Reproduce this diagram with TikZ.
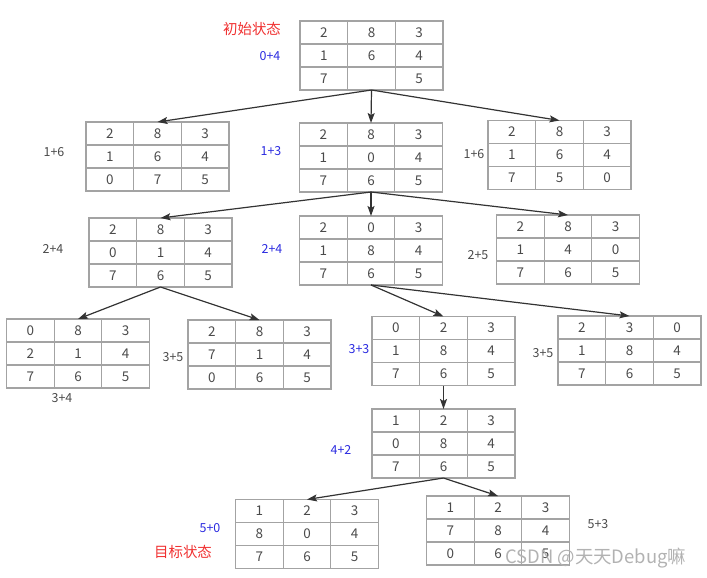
\documentclass[tikz,border=0pt]{standalone}
\usepackage{fontspec}
\setmainfont{Noto Sans CJK SC}
\usetikzlibrary{arrows.meta}
\definecolor{gridc}{HTML}{A3A3A3}
\definecolor{txtc}{HTML}{4A4A4A}
\definecolor{arrc}{HTML}{333333}
\definecolor{bluec}{HTML}{2B2BE0}
\definecolor{redc}{HTML}{F03030}
\tikzset{
  pbox/.style={draw=gridc, line width=1.1bp, minimum width=143bp, minimum height=69bp, inner sep=0pt, outer sep=0pt},
  gridline/.style={draw=gridc, line width=1.1bp},
  cell/.style={text=txtc, font=\fontsize{13.5}{14}\selectfont, inner sep=0pt},
  lab/.style={text=txtc, font=\fontsize{12.5}{13}\selectfont, inner sep=0pt},
  blab/.style={lab, text=bluec},
  rlab/.style={text=redc, font=\fontsize{14.5}{15}\selectfont, inner sep=0pt},
  conn/.style={draw=arrc, line width=1.2bp, -{Stealth[length=10bp,width=7bp,inset=2bp]}},
}
\newcommand\puzzle[4]{%
  \node[pbox] (#1) at (#2,#3) {};
  \draw[gridline] ([xshift=47.67bp]#1.north west) -- ([xshift=47.67bp]#1.south west)
    ([xshift=-47.67bp]#1.north east) -- ([xshift=-47.67bp]#1.south east)
    ([yshift=-23bp]#1.north west) -- ([yshift=-23bp]#1.north east)
    ([yshift=23bp]#1.south west) -- ([yshift=23bp]#1.south east);
  \foreach \v [count=\k from 0] in {#4} {
    \pgfmathsetmacro\rr{int(div(\k,3))}
    \pgfmathsetmacro\dx{(mod(\k,3)-1)*47.67}
    \pgfmathsetmacro\dy{(1-\rr)*23}
    \node[cell] at ([xshift=\dx bp, yshift=\dy bp]#1.center) {\v};
  }%
}
\begin{document}
\begin{tikzpicture}[x=1bp,y=-1bp]
\useasboundingbox (0,0) rectangle (707,578);
\puzzle{root}{371.5}{55.5}{2,8,3,1,6,4,7,,5}
\puzzle{a1}{157.5}{156.5}{2,8,3,1,6,4,0,7,5}
\puzzle{a2}{371}{157.5}{2,8,3,1,0,4,7,6,5}
\puzzle{a3}{559.5}{155}{2,8,3,1,6,4,7,5,0}
\puzzle{b1}{160.5}{252.5}{2,8,3,0,1,4,7,6,5}
\puzzle{b2}{371}{250.5}{2,0,3,1,8,4,7,6,5}
\puzzle{b3}{568}{249.5}{2,8,3,1,4,0,7,6,5}
\puzzle{c1}{78}{353.5}{0,8,3,2,1,4,7,6,5}
\puzzle{c2}{259.5}{354.5}{2,8,3,7,1,4,0,6,5}
\puzzle{c3}{443.5}{351}{0,2,3,1,8,4,7,6,5}
\puzzle{c4}{629.5}{350.5}{2,3,0,1,8,4,7,6,5}
\puzzle{d1}{443.5}{443.5}{1,2,3,0,8,4,7,6,5}
\puzzle{e1}{307}{534}{1,2,3,8,0,4,7,6,5}
\puzzle{e2}{498}{530.5}{1,2,3,7,8,4,0,6,5}

\draw[conn] (root.south) -- (a1.north);
\draw[conn] (root.south) -- (a2.north);
\draw[conn] (root.south) -- (a3.north);
\draw[conn] (a2.south) -- (b1.north);
\draw[conn] (a2.south) -- (b2.north);
\draw[conn] (a2.south) -- (b3.north);
\draw[conn] (b1.south) -- (c1.north);
\draw[conn] (b1.south) -- (c2.north);
\draw[conn] (b2.south) -- (c3.north);
\draw[conn] (b2.south) -- (c4.north);
\draw[conn] (c3.south) -- (d1.north);
\draw[conn] (d1.south) -- (e1.north);
\draw[conn] (d1.south) -- (e2.north);

\node[rlab] (t0) at (252,29) {初始状态};
\node[blab] (l0) at (270,56) {0+4};
\node[lab] (l1) at (54,152) {1+6};
\node[blab] (l2) at (271,151) {1+3};
\node[lab] (l3) at (474,154) {1+6};
\node[lab] (l4) at (53,249) {2+4};
\node[blab] (l5) at (272,249) {2+4};
\node[lab] (l6) at (478,255) {2+5};
\node[lab] (l7) at (62,398) {3+4};
\node[lab] (l8) at (173,357) {3+5};
\node[blab] (l9) at (359,349) {3+3};
\node[lab] (l10) at (543,353) {3+5};
\node[blab] (l11) at (341,450) {4+2};
\node[blab] (l12) at (210,528) {5+0};
\node[rlab] (t1) at (183,552) {目标状态};
\node[lab] (l13) at (598,524) {5+3};
\node[anchor=west, text=gray!60, font=\fontsize{18.5}{19}\selectfont, inner sep=0pt] (wm) at (505,558) {CSDN @天天Debug嘛};
\end{tikzpicture}
\end{document}
